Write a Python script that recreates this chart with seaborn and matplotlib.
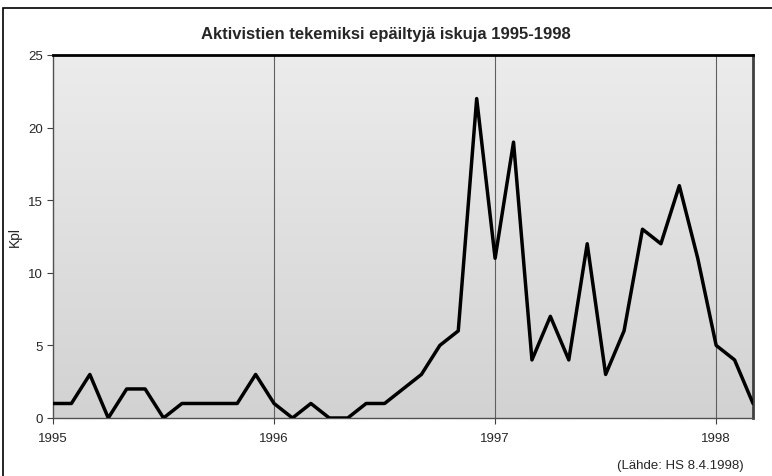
import numpy as np
import pandas as pd
import seaborn as sns
import matplotlib.pyplot as plt
from matplotlib.patches import Rectangle
from matplotlib.colors import LinearSegmentedColormap

# Kuukausittaiset iskut tammikuu 1995 - maaliskuu 1998
iskut_1995 = [1, 1, 3, 0, 2, 2, 0, 1, 1, 1, 1, 3]
iskut_1996 = [1, 0, 1, 0, 0, 1, 1, 2, 3, 5, 6, 22]
iskut_1997 = [11, 19, 4, 7, 4, 12, 3, 6, 13, 12, 16, 11]
iskut_1998 = [5, 4, 1]

vuodet = ['1995', '1996', '1997', '1998']

arvot = iskut_1995 + iskut_1996 + iskut_1997 + iskut_1998
df = pd.DataFrame({'kk': np.arange(len(arvot)), 'kpl': arvot})

sns.set_style('white')
plt.rcParams['font.family'] = ['Liberation Sans', 'DejaVu Sans']

fig = plt.figure(figsize=(7.72, 4.77), dpi=100)
ax = fig.add_axes([53 / 772, 58 / 477, 700 / 772, 363 / 477])

# Harmaa pistekuvioinen tausta (liukuva sävy ylhäältä alas)
tausta = LinearSegmentedColormap.from_list('tausta', ['#ececec', '#d2d2d2'])
grad = np.linspace(0, 1, 256).reshape(-1, 1)
ax.imshow(grad, extent=[0, len(arvot) - 1, 0, 25], aspect='auto',
          cmap=tausta, origin='upper', zorder=0)

for i in range(1, len(vuodet)):
    ax.axvline(12 * i, color='#606060', lw=0.8, zorder=1)

sns.lineplot(data=df, x='kk', y='kpl', color='black', lw=2.5, ax=ax, zorder=3)

ax.set_xlim(0, len(arvot) - 1)
ax.set_ylim(0, 25)
ax.set_yticks(range(0, 26, 5))
ax.set_xticks([12 * i for i in range(len(vuodet))])
ax.set_xticklabels(vuodet)
ax.tick_params(axis='both', labelsize=9.5, length=4, width=0.8,
               color='#404040', direction='out', bottom=True, left=True, pad=3)
ax.tick_params(axis='x', pad=6)
ax.set_xlabel('')
ax.set_ylabel('Kpl', fontsize=10, labelpad=5)

for side in ['left', 'bottom']:
    ax.spines[side].set_color('#505050')
    ax.spines[side].set_linewidth(1)
ax.spines['top'].set_color('black')
ax.spines['top'].set_linewidth(2)
ax.spines['right'].set_color('#404040')
ax.spines['right'].set_linewidth(2)

fig.text(0.5, 1 - 35 / 477, 'Aktivistien tekemiksi epäiltyjä iskuja 1995-1998',
         ha='center', va='center', fontsize=12, fontweight='bold')
fig.text(680 / 772, 1 - 466 / 477, '(Lähde: HS 8.4.1998)',
         ha='center', va='center', fontsize=9.5)

# kuvion kehys (oikea ja ala reuna rajautuvat pois)
fig.patches.append(Rectangle((3 / 772, -0.1), 1.2, 1 - 9 / 477 + 0.1,
                             transform=fig.transFigure, fill=False,
                             edgecolor='black', lw=1.2))

fig.savefig('out.png', dpi=100)
